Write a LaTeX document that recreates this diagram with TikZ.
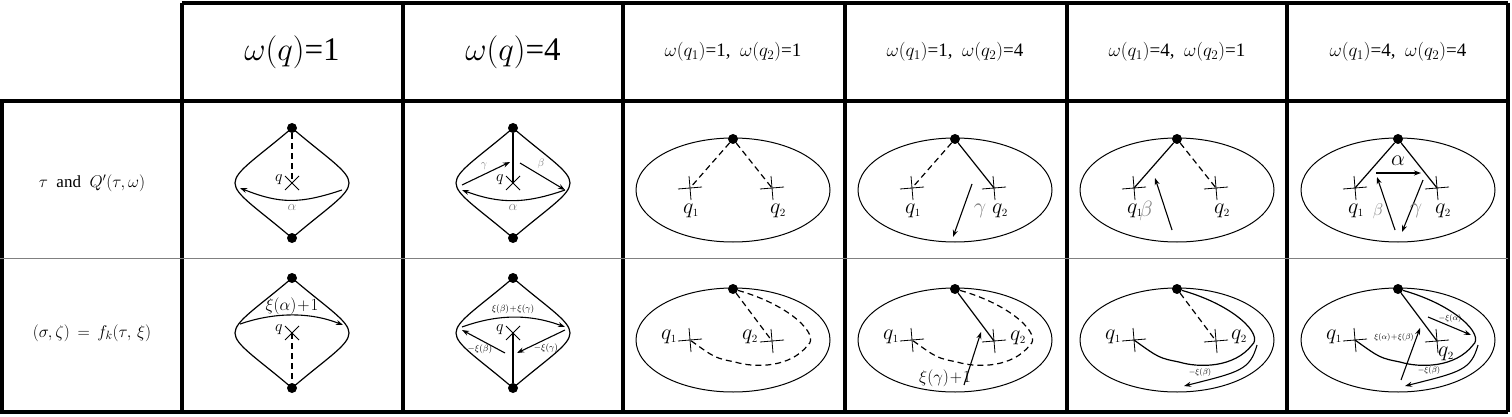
\RequirePackage{fix-cm}
\documentclass[tikz,border=0pt]{standalone}
\usepackage{fontspec}
\setmainfont{Liberation Serif}
\usetikzlibrary{arrows.meta,calc}
\newcommand{\xcross}[1]{\draw[thick] ($(#1)+(-7,-7)$) -- ($(#1)+(7,7)$) ($(#1)+(-7,7)$) -- ($(#1)+(7,-7)$);}
\newcommand{\pcross}[1]{\draw[thick] ($(#1)+(-12,1)$) -- ($(#1)+(12,-1)$) ($(#1)+(-1,-12)$) -- ($(#1)+(1,12)$);}
\newcommand{\fs}[1]{\fontsize{#1}{#1}\selectfont}
\begin{document}
\begin{tikzpicture}[x=1pt,y=-1pt,
    grid/.style={line width=4pt},
    sep/.style={gray,line width=0.8pt},
    dot/.style={circle,fill,inner sep=0pt,minimum size=10pt},
    arr/.style={-{Stealth[length=7pt,width=5pt]},line width=1.1pt},
    edge/.style={line width=1.2pt},
    dsh/.style={dash pattern=on 6pt off 4pt},
    lbl/.style={inner sep=1pt,font=\fs{22}},
    glbl/.style={inner sep=1pt,text=gray,font=\fs{22}},
    tiny/.style={inner sep=0pt,font=\fs{8}},
    head/.style={font=\fs{19}}
  ]
  \useasboundingbox (0,0) rectangle (1512,417);
  % table lines
  \draw[grid] (182,3) -- (1508,3);
  \draw[grid] (0,101) -- (1508,101);
  \draw[grid] (0,412) -- (1508,412);
  \draw[grid] (2,101) -- (2,412);
  \foreach \x in {182,403,623,845,1067,1287,1508}
    \draw[grid] (\x,3) -- (\x,412);
  \draw[sep] (0,258) -- (1508,258);

  % header
  \node[font=\fs{33}] (h1) at (292,52) {$\omega(q)$=1};
  \node[font=\fs{33}] (h2) at (513,52) {$\omega(q)$=4};
  \node[head] (h3) at (733,52) {$\omega(q_1)$=1,\ \ $\omega(q_2)$=1};
  \node[head] (h4) at (955,52) {$\omega(q_1)$=1,\ \ $\omega(q_2)$=4};
  \node[head] (h5) at (1177,52) {$\omega(q_1)$=4,\ \ $\omega(q_2)$=1};
  \node[head] (h6) at (1398,52) {$\omega(q_1)$=4,\ \ $\omega(q_2)$=4};
  \node[font=\fs{17}] (r1) at (92,183) {$\tau$\ \ and\ \ $Q'(\tau,\omega)$};
  \node[font=\fs{17}] (r2) at (92,333) {$(\sigma,\zeta)\,=\,f_k(\tau,\,\xi)$};

  % rhombus cells
  \foreach \cx/\cy/\nm in {292/183/a,513/183/b,292/333/c,513/333/d}{
    \begin{scope}[shift={(\cx,\cy)}]
      \draw[edge] (0,-55) .. controls (-35,-25) and (-57,-12) .. (-57,0)
                  .. controls (-57,12) and (-35,25) .. (0,55)
                  .. controls (35,25) and (57,12) .. (57,0)
                  .. controls (57,-12) and (35,-25) .. (0,-55) -- cycle;
      \node[dot] (top\nm) at (0,-55) {};
      \node[dot] (bot\nm) at (0,55) {};
      \coordinate (q\nm) at (0,0);
      \xcross{q\nm}
      \node[inner sep=1pt,font=\fs{16}] at (-13,-3) {$q$};
    \end{scope}
  }
  % cell a
  \draw[edge,dsh] (topa) -- (qa);
  \coordinate (a1) at (342,190); \coordinate (a2) at (240,188);
  \draw[arr] (a1) .. controls (300,204) and (280,204) .. (a2);
  \node[glbl,font=\fs{14}] at (292,207) {$\alpha$};
  % cell b
  \draw[edge] (topb) -- (qb);
  \coordinate (b1) at (462,185); \coordinate (b2) at (510,162);
  \coordinate (b3) at (520,163); \coordinate (b4) at (565,190);
  \draw[arr] (b1) -- (b2);
  \draw[arr] (b3) -- (b4);
  \draw[arr] (565,190) .. controls (525,204) and (500,204) .. (462,190);
  \node[glbl,font=\fs{11}] at (484,166) {$\gamma$};
  \node[glbl,font=\fs{11}] at (541,164) {$\beta$};
  \node[glbl,font=\fs{14}] at (513,207) {$\alpha$};
  % cell c
  \draw[edge,dsh] (qc) -- (botc);
  \coordinate (c1) at (240,324); \coordinate (c2) at (343,325);
  \draw[arr] (c1) .. controls (275,312) and (310,312) .. (c2);
  \node[inner sep=1pt,font=\fs{17}] at (292,306) {$\xi(\alpha)\!+\!1$};
  % cell d
  \draw[edge] (qd) -- (botd);
  \coordinate (d1) at (462,327); \coordinate (d2) at (565,327);
  \draw[arr] (d1) .. controls (498,314) and (530,314) .. (d2);
  \draw[arr] (505,353) -- (462,330);
  \draw[arr] (565,330) -- (517,353);
  \node[tiny,font=\fs{9}] at (513,309) {$\xi(\beta)\!+\!\xi(\gamma)$};
  \node[tiny,font=\fs{9}] at (480,349) {$-\xi(\beta)$};
  \node[tiny,font=\fs{9}] at (546,348) {$-\xi(\gamma)$};

  % ellipse cells
  \foreach \cx/\cy/\nm in {733/190/e,955/190/f,1177/190/g,1398/190/h,
                            733/340/i,955/340/j,1177/340/k,1398/340/l}{
    \begin{scope}[shift={(\cx,\cy)}]
      \draw[line width=1pt] (0,0) ellipse [x radius=97, y radius=52];
      \node[dot] (top\nm) at (0,-51) {};
    \end{scope}
  }
  % row 2 crosses and labels
  \foreach \cx/\nm in {733/e,955/f,1177/g,1398/h}{
    \coordinate (qa\nm) at (\cx-43,188);
    \coordinate (qb\nm) at (\cx+39,188);
    \pcross{qa\nm} \pcross{qb\nm}
    \node[lbl] at (\cx-42,211) {$q_{\scriptscriptstyle 1}$};
    \node[lbl] at (\cx+45,211) {$q_{\scriptscriptstyle 2}$};
  }
  \draw[edge,dsh] (tope) -- (qae);
  \draw[edge,dsh] (tope) -- (qbe);
  \draw[edge,dsh] (topf) -- (qaf);
  \draw[edge] (topf) -- (qbf);
  \draw[arr] (972,184) -- (953,237);
  \node[glbl] at (980,211) {$\gamma$};
  \draw[edge] (topg) -- (qag);
  \draw[edge,dsh] (topg) -- (qbg);
  \draw[arr] (1172,230) -- (1155,178);
  \node[glbl] at (1146,211) {$\beta$};
  \draw[edge] (toph) -- (qah);
  \draw[edge] (toph) -- (qbh);
  \draw[arr] (1376,173) -- (1421,173);
  \node[lbl] at (1398,161) {$\alpha$};
  \draw[arr] (1395,230) -- (1377,177);
  \node[glbl,font=\fs{17}] at (1378,211) {$\beta$};
  \draw[arr] (1423,180) -- (1402,232);
  \node[glbl] at (1416,211) {$\gamma$};

  % row 3 crosses
  \foreach \cx/\nm in {733/i,955/j,1177/k,1398/l}{
    \coordinate (qa\nm) at (\cx-43,340);
    \coordinate (qb\nm) at (\cx+39,341);
    \pcross{qa\nm} \pcross{qb\nm}
    \node[lbl] at (\cx-64,337) {$q_{\scriptscriptstyle 1}$};
  }
  \node[lbl] at (750,337) {$q_{\scriptscriptstyle 2}$};
  \node[lbl] at (1018,338) {$q_{\scriptscriptstyle 2}$};
  \node[lbl] at (1239,337) {$q_{\scriptscriptstyle 2}$};
  \node[lbl] at (1446,354) {$q_{\scriptscriptstyle 2}$};
  % cell i
  \draw[edge,dsh] (topi) -- (qbi);
  \draw[edge,dsh] (topi) .. controls (790,305) and (820,335) .. (808,345)
        .. controls (790,368) and (755,368) .. (735,362) .. controls (715,358) .. (qai);
  % cell j
  \draw[edge] (topj) -- (qbj);
  \draw[edge,dsh] (topj) .. controls (1012,305) and (1042,335) .. (1030,345)
        .. controls (1012,368) and (977,368) .. (957,362) .. controls (937,358) .. (qaj);
  \draw[arr] (964,385) -- (981,332);
  \node[inner sep=1pt,font=\fs{17}] at (945,378) {$\xi(\gamma)\!+\!1$};
  % cell k
  \draw[edge,dsh] (topk) -- (qbk);
  \draw[edge] (topk) .. controls (1234,305) and (1264,335) .. (1252,345)
        .. controls (1234,368) and (1199,368) .. (1179,362) .. controls (1159,358) .. (qak);
  \draw[arr] (1257,345) .. controls (1250,370) and (1240,372) .. (1184,386);
  \node[tiny] at (1200,372) {$-\xi(\beta)$};
  % cell l
  \draw[edge] (topl) -- (qbl);
  \draw[edge] (topl) .. controls (1455,305) and (1485,335) .. (1473,345)
        .. controls (1455,368) and (1420,368) .. (1400,362) .. controls (1380,358) .. (qal);
  \draw[arr] (1428,317) -- (1471,335);
  \node[tiny] at (1450,318) {$-\xi(\alpha)$};
  \draw[arr] (1401,380) -- (1420,328);
  \node[tiny] at (1394,337) {$\xi(\alpha)\!+\!\xi(\beta)$};
  \draw[arr] (1478,345) .. controls (1471,370) and (1461,372) .. (1405,386);
  \node[tiny] at (1429,370) {$-\xi(\beta)$};
\end{tikzpicture}
\end{document}
